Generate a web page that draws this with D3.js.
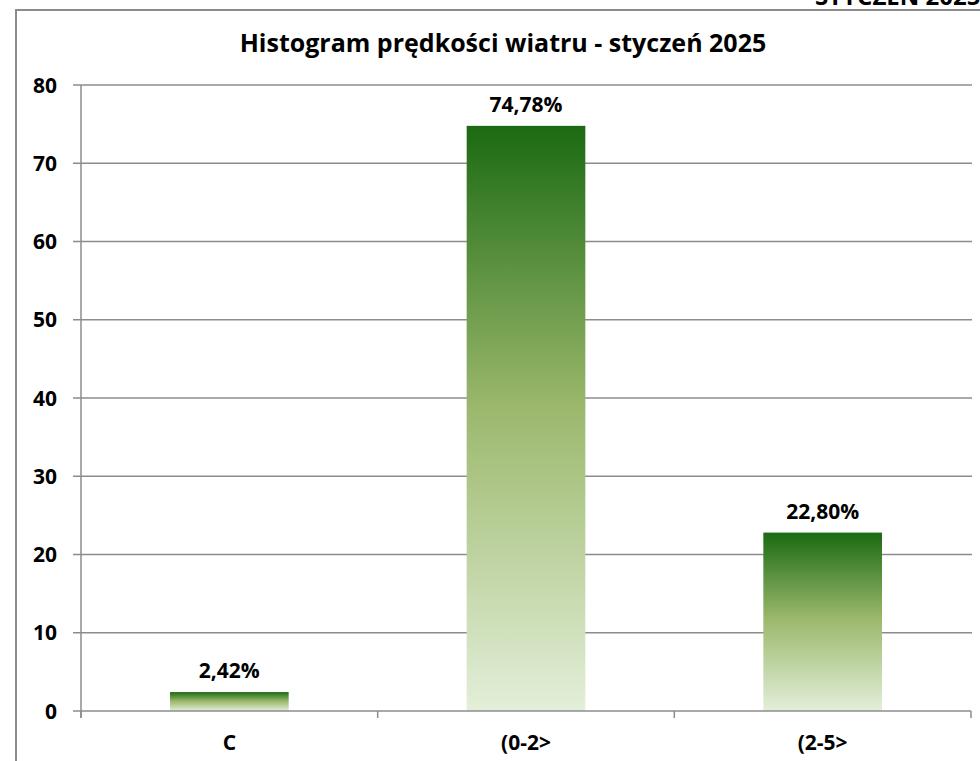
<!DOCTYPE html>
<html><head><meta charset="utf-8">
<script src="https://cdn.jsdelivr.net/npm/d3@7"></script>
<style>html,body{margin:0;padding:0;background:#fff;}svg{display:block;}</style>
</head><body>
<script>
const categories = ["C", "(0-2>", "(2-5>"];
const values = [2.42, 74.78, 22.80];
const valueLabels = ["2,42%", "74,78%", "22,80%"];
const yTicks = [0, 10, 20, 30, 40, 50, 60, 70, 80];
const title = "Histogram prędkości wiatru - styczeń 2025";
const cornerText = "STYCZEŃ 2025";

(function () {
const W = 980, H = 761;
const font = "'Open Sans', 'DejaVu Sans', sans-serif";
const svg = d3.select("body").append("svg").attr("width", W).attr("height", H);

const defs = svg.append("defs");
const grad = defs.append("linearGradient").attr("id", "barGrad")
  .attr("x1", 0).attr("y1", 0).attr("x2", 0).attr("y2", 1);
grad.append("stop").attr("offset", "0%").attr("stop-color", "#1b6a12");
grad.append("stop").attr("offset", "48%").attr("stop-color", "#9bb86c");
grad.append("stop").attr("offset", "100%").attr("stop-color", "#e3efd9");

// corner text (cut off at top, as in the source)
svg.append("text").attr("x", 815).attr("y", 5).attr("font-family", font)
  .attr("font-weight", "bold").attr("font-size", 24).attr("fill", "#000").text(cornerText);

// border
svg.append("rect").attr("x", 16).attr("y", 10).attr("width", 1000).attr("height", 800)
  .attr("fill", "none").attr("stroke", "#8c8c8c").attr("stroke-width", 2);

const pL = 81, pR = 971, pT = 85, pB = 711;
const x = d3.scaleBand().domain(categories).range([pL, pR]).paddingInner(0.6).paddingOuter(0.3);
const xb = d3.scaleBand().domain(categories).range([pL, pR]);
const y = d3.scaleLinear().domain([0, 80]).range([pB, pT]);

// gridlines
svg.append("g").selectAll("line").data(yTicks.filter(d => d > 0)).join("line")
  .attr("x1", pL - 8).attr("x2", pR + 1)
  .attr("y1", d => y(d)).attr("y2", d => y(d))
  .attr("stroke", "#8c8c8c").attr("stroke-width", 1.5);

// y axis
svg.append("line").attr("x1", pL).attr("x2", pL).attr("y1", pT).attr("y2", pB + 7)
  .attr("stroke", "#8c8c8c").attr("stroke-width", 1.5);
svg.append("line").attr("x1", pL - 8).attr("x2", pL).attr("y1", pB).attr("y2", pB)
  .attr("stroke", "#8c8c8c").attr("stroke-width", 1.5);
svg.append("g").selectAll("text").data(yTicks).join("text")
  .attr("x", 57).attr("y", d => y(d)).attr("dy", "0.36em")
  .attr("text-anchor", "end").attr("font-family", font).attr("font-weight", "bold")
  .attr("font-size", 21).attr("fill", "#000").text(d => d);

// bars
svg.append("g").selectAll("rect").data(values).join("rect")
  .attr("x", (d, i) => x(categories[i])).attr("width", x.bandwidth())
  .attr("y", d => y(d)).attr("height", d => y(0) - y(d))
  .attr("fill", "url(#barGrad)");

// x axis
svg.append("line").attr("x1", pL).attr("x2", pR).attr("y1", pB).attr("y2", pB)
  .attr("stroke", "#8c8c8c").attr("stroke-width", 1.5);
svg.append("g").selectAll("line").data(categories.map(c => xb(c)).concat([pR])).join("line")
  .attr("x1", d => d).attr("x2", d => d).attr("y1", pB).attr("y2", pB + 7)
  .attr("stroke", "#8c8c8c").attr("stroke-width", 1.5);
svg.append("g").selectAll("text").data(categories).join("text")
  .attr("x", d => xb(d) + xb.bandwidth() / 2).attr("y", 750)
  .attr("text-anchor", "middle").attr("font-family", font).attr("font-weight", "bold")
  .attr("font-size", 21).attr("fill", "#000").text(d => d);

// value labels
svg.append("g").selectAll("text").data(values).join("text")
  .attr("x", (d, i) => x(categories[i]) + x.bandwidth() / 2).attr("y", d => y(d) - 14)
  .attr("text-anchor", "middle").attr("font-family", font).attr("font-weight", "bold")
  .attr("font-size", 21).attr("fill", "#000").text((d, i) => valueLabels[i]);

// title
svg.append("text").attr("x", 503).attr("y", 52).attr("text-anchor", "middle")
  .attr("font-family", font).attr("font-weight", "bold").attr("font-size", 25)
  .attr("fill", "#000").text(title);
})();
</script>
</body></html>
